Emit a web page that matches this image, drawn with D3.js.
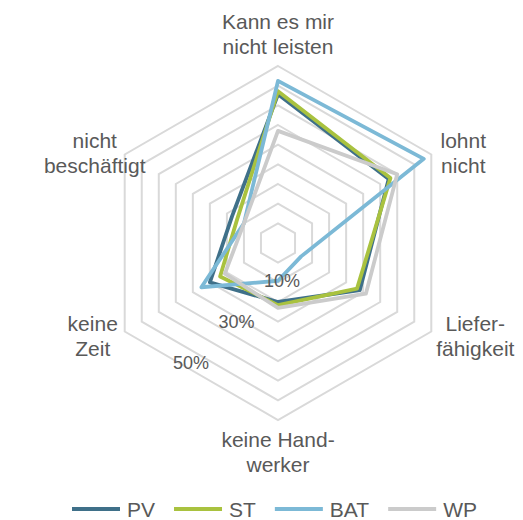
<!DOCTYPE html>
<html>
<head>
<meta charset="utf-8">
<script src="https://cdn.jsdelivr.net/npm/d3@7"></script>
<style>
  body { margin: 0; background: #fff; }
  text { font-family: "Liberation Sans", Arial, sans-serif; fill: #595959; }
</style>
</head>
<body>
<div id="chart"></div>
<script>
// categories clockwise from the top
const categories = ["Kann es mir nicht leisten", "lohnt nicht", "Lieferfähigkeit", "keine Handwerker", "keine Zeit", "nicht beschäftigt"];
const categoryLines = [["Kann es mir", "nicht leisten"], ["lohnt", "nicht"], ["Liefer-", "fähigkeit"], ["keine Hand-", "werker"], ["keine", "Zeit"], ["nicht", "beschäftigt"]];

const seriesNames = ["PV", "ST", "BAT", "WP"];
const pvValues = [37.8, 32.5, 24.0, 15.0, 20.0, 13.5];
const stValues = [38.6, 33.0, 23.2, 15.8, 17.0, 12.0];
const batValues = [41.2, 42.8, 6.8, 9.6, 22.5, 10.0];
const wpValues = [28.5, 35.0, 25.8, 16.5, 15.6, 10.0];

const gridValues = [5, 10, 15, 20, 25, 30, 35, 40, 45];
const tickValues = [10, 30, 50];
const tickLabels = ["10%", "30%", "50%"];

window.onload = function () {
    const w = 523;
    const h = 520;
    const cx = 278;
    const cy = 243;
    const radius = 177;
    const colors = ["#3f7089", "#a9c23f", "#7cb9d6", "#cbcbcb"];

    const series = [pvValues, stValues, batValues, wpValues];

    const rScale = d3.scaleLinear()
        .domain([0, 45])
        .range([0, radius]);

    const angle = i => i * 2 * Math.PI / categories.length;

    const svg = d3.select("#chart")
        .append("svg")
        .attr("width", w)
        .attr("height", h);

    const g = svg.append("g")
        .attr("transform", `translate(${cx},${cy})`);

    // hexagon grid
    const gridLine = d3.lineRadial()
        .angle((d, i) => angle(i))
        .radius(d => rScale(d))
        .curve(d3.curveLinearClosed);

    g.selectAll(".grid")
        .data(gridValues)
        .enter()
        .append("path")
        .attr("class", "grid")
        .attr("d", v => gridLine(categories.map(() => v)))
        .attr("fill", "none")
        .attr("stroke", "#d9d9d9")
        .attr("stroke-width", 2);

    // series
    const seriesLine = d3.lineRadial()
        .angle((d, i) => angle(i))
        .radius(d => rScale(d))
        .curve(d3.curveLinearClosed);

    g.selectAll(".series")
        .data(series)
        .enter()
        .append("path")
        .attr("class", "series")
        .attr("d", d => seriesLine(d))
        .attr("fill", "none")
        .attr("stroke", (d, i) => colors[i])
        .attr("stroke-width", 3.8)
        .attr("stroke-linejoin", "round");

    // tick labels (sit on a slanted line, like the original)
    const tickX = d3.scaleLinear().domain([10, 50]).range([4, -87]);
    const tickY = d3.scaleLinear().domain([10, 50]).range([44, 126]);

    g.selectAll(".tick")
        .data(tickValues)
        .enter()
        .append("text")
        .attr("class", "tick")
        .attr("x", d => tickX(d))
        .attr("y", d => tickY(d))
        .attr("text-anchor", "middle")
        .attr("font-size", "18px")
        .text((d, i) => tickLabels[i]);

    // category labels, offset from the outer vertex
    const labelOffsets = [[0, -37], [32, -6.5], [44, -0.5], [0, 27], [-32, -0.5], [-30, -6.5]];
    const lineHeight = 24.5;

    const labels = g.selectAll(".cat")
        .data(categoryLines)
        .enter()
        .append("text")
        .attr("class", "cat")
        .attr("text-anchor", "middle")
        .attr("font-size", "21px")
        .attr("transform", (d, i) => {
            const a = angle(i);
            const vx = radius * Math.sin(a) + labelOffsets[i][0];
            const vy = -radius * Math.cos(a) + labelOffsets[i][1];
            return `translate(${vx},${vy})`;
        });

    labels.selectAll("tspan")
        .data(d => d)
        .enter()
        .append("tspan")
        .attr("x", 0)
        .attr("y", (d, j) => j * lineHeight)
        .text(d => d);

    // legend
    const legend = svg.append("g")
        .attr("transform", "translate(72,509)");

    let xPos = 0;
    seriesNames.forEach((name, i) => {
        const item = legend.append("g").attr("transform", `translate(${xPos},0)`);
        item.append("line")
            .attr("x1", 0)
            .attr("x2", 48)
            .attr("y1", 0)
            .attr("y2", 0)
            .attr("stroke", colors[i])
            .attr("stroke-width", 3.8);
        const t = item.append("text")
            .attr("x", 55)
            .attr("y", 8)
            .attr("font-size", "21px")
            .text(name);
        xPos += 55 + t.node().getComputedTextLength() + 19;
    });
};
</script>
</body>
</html>
